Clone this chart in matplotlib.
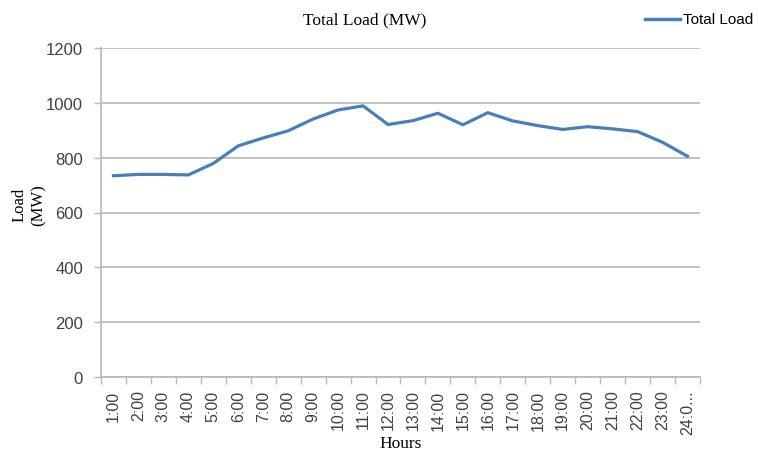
import numpy as np
import matplotlib
matplotlib.use("Agg")
import matplotlib.pyplot as plt
from matplotlib.ticker import FixedLocator

# Hourly load
hours = ["1:00", "2:00", "3:00", "4:00", "5:00", "6:00", "7:00", "8:00",
         "9:00", "10:00", "11:00", "12:00", "13:00", "14:00", "15:00", "16:00",
         "17:00", "18:00", "19:00", "20:00", "21:00", "22:00", "23:00", "24:0..."]
total_load = [734, 739, 739, 737, 779, 843, 872, 898, 941, 974, 989, 921,
              935, 962, 920, 964, 934, 917, 903, 913, 905, 895, 856, 805]
y_ticks = [0, 200, 400, 600, 800, 1000, 1200]

line_color = "#4a7ebb"
grid_color = "#b8b8b8"
serif = "Liberation Serif"
sans = "Liberation Sans"

fig = plt.figure(figsize=(7.58, 4.52), dpi=100)
ax = fig.add_axes([101 / 758, 1 - 378 / 452, 599 / 758, 329 / 452])

x = np.arange(len(hours))
ax.plot(x, total_load, color=line_color, lw=2.3, solid_joinstyle="round")

ax.set_xlim(-0.5, len(hours) - 0.5)
ax.set_ylim(0, 1200)
ax.set_yticks(y_ticks)
ax.set_yticklabels([str(v) for v in y_ticks], fontfamily=sans, fontsize=12,
                   color="#404040")
ax.yaxis.grid(True, color=grid_color, lw=1.2)
ax.set_axisbelow(True)

ax.set_xticks(x)
ax.set_xticklabels(hours, rotation=90, fontfamily=sans, fontsize=11.5,
                   color="#404040")
ax.xaxis.set_minor_locator(FixedLocator(np.arange(len(hours) + 1) - 0.5))
ax.tick_params(axis="x", which="major", length=0, pad=9)
ax.tick_params(axis="x", which="minor", length=5, color=grid_color, width=1)
ax.tick_params(axis="y", length=5, color=grid_color, width=1, pad=8)

for side in ["top", "right"]:
    ax.spines[side].set_visible(False)
for side in ["left", "bottom"]:
    ax.spines[side].set_color(grid_color)
    ax.spines[side].set_linewidth(1.2)

fig.text(365 / 758, 1 - 20 / 452, "Total Load (MW)", fontfamily=serif,
         fontsize=12.5, ha="center", va="center")
fig.text(29 / 758, 1 - 205 / 452, "Load\n(MW)", fontfamily=serif, fontsize=12,
         rotation=90, ha="center", va="center", linespacing=1.2)
fig.text(401 / 758, 1 - 444 / 452, "Hours", fontfamily=serif, fontsize=12.5,
         ha="center", va="center")

# legend entry
fig.add_artist(plt.Line2D([645 / 758, 680 / 758], [1 - 20 / 452, 1 - 20 / 452],
                          color=line_color, lw=2.5, transform=fig.transFigure))
fig.text(683 / 758, 1 - 20 / 452, "Total Load", fontfamily=sans, fontsize=11,
         ha="left", va="center")

fig.savefig("out.png", dpi=100)
